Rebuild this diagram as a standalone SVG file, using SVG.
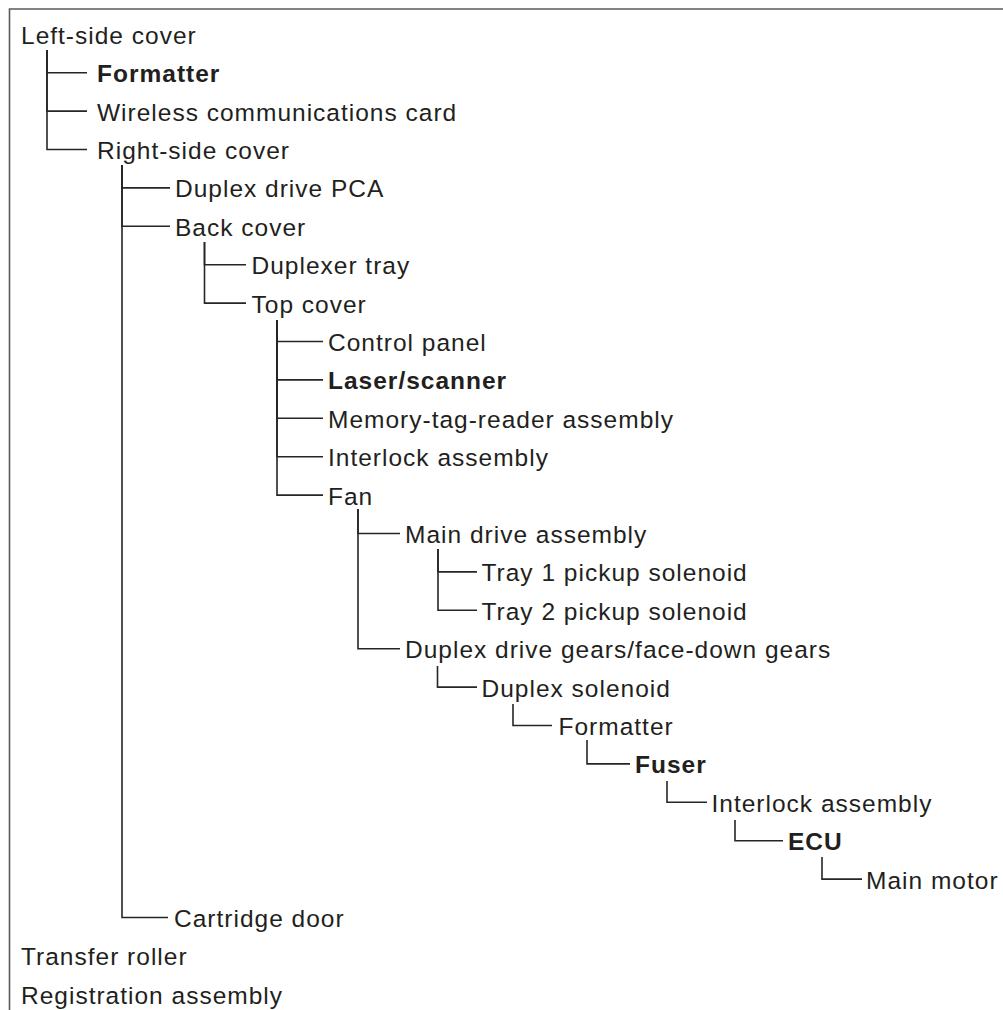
<svg xmlns="http://www.w3.org/2000/svg" width="1003" height="1010" viewBox="0 0 1003 1010">
<style>
.t{font-family:"Liberation Sans",Arial,sans-serif;font-size:24.5px;letter-spacing:1px;fill:#231f20}
.b{font-weight:bold}
.c{fill:none;stroke:#262626;stroke-width:1.6}
.f{fill:none;stroke:#5a5a5a;stroke-width:1.6}
</style>
<rect width="1003" height="1010" fill="#fff"/>
<path class="f" d="M9.5 1010 V9 H1003"/>
<g id="connectors">
<path class="c" d="M47 50 V72.7 H87"/>
<path class="c" d="M47 50 V111.1 H87"/>
<path class="c" d="M47 50 V149.5 H87"/>
<path class="c" d="M122 165 V187.9 H170"/>
<path class="c" d="M122 165 V226.3 H170"/>
<path class="c" d="M122 165 V917.5 H168"/>
<path class="c" d="M204.5 242 V264.7 H246"/>
<path class="c" d="M204.5 242 V303.1 H246"/>
<path class="c" d="M277 320 V341.5 H323"/>
<path class="c" d="M277 320 V379.9 H323"/>
<path class="c" d="M277 320 V418.3 H323"/>
<path class="c" d="M277 320 V456.7 H323"/>
<path class="c" d="M277 320 V495.1 H323"/>
<path class="c" d="M358 509 V533.5 H400"/>
<path class="c" d="M358 509 V648.7 H400"/>
<path class="c" d="M438 549 V571.9 H477"/>
<path class="c" d="M438 549 V610.3 H477"/>
<path class="c" d="M437.5 666 V687.1 H477"/>
<path class="c" d="M513 704 V725.5 H552"/>
<path class="c" d="M587 740 V763.9 H630"/>
<path class="c" d="M667 781 V802.3 H707"/>
<path class="c" d="M735 820 V840.7 H783"/>
<path class="c" d="M822 857 V879.1 H862"/>
</g>
<g id="n0"><text class="t" x="21" y="43.8">Left-side cover</text></g>
<g id="n1"><text class="t b" x="97" y="82.2">Formatter</text></g>
<g id="n2"><text class="t" x="97" y="120.6">Wireless communications card</text></g>
<g id="n3"><text class="t" x="97" y="159">Right-side cover</text></g>
<g id="n4"><text class="t" x="175" y="197.4">Duplex drive PCA</text></g>
<g id="n5"><text class="t" x="175" y="235.8">Back cover</text></g>
<g id="n6"><text class="t" x="251.5" y="274.2">Duplexer tray</text></g>
<g id="n7"><text class="t" x="251.5" y="312.6">Top cover</text></g>
<g id="n8"><text class="t" x="328" y="351">Control panel</text></g>
<g id="n9"><text class="t b" x="328" y="389.4">Laser/scanner</text></g>
<g id="n10"><text class="t" x="328" y="427.8">Memory-tag-reader assembly</text></g>
<g id="n11"><text class="t" x="328" y="466.2">Interlock assembly</text></g>
<g id="n12"><text class="t" x="328" y="504.6">Fan</text></g>
<g id="n13"><text class="t" x="405" y="543">Main drive assembly</text></g>
<g id="n14"><text class="t" x="481.5" y="581.4">Tray 1 pickup solenoid</text></g>
<g id="n15"><text class="t" x="481.5" y="619.8">Tray 2 pickup solenoid</text></g>
<g id="n16"><text class="t" x="405" y="658.2">Duplex drive gears/face-down gears</text></g>
<g id="n17"><text class="t" x="481.5" y="696.6">Duplex solenoid</text></g>
<g id="n18"><text class="t" x="558.5" y="735">Formatter</text></g>
<g id="n19"><text class="t b" x="635" y="773.4">Fuser</text></g>
<g id="n20"><text class="t" x="711.5" y="811.8">Interlock assembly</text></g>
<g id="n21"><text class="t b" x="788" y="850.2">ECU</text></g>
<g id="n22"><text class="t" x="866" y="888.6">Main motor</text></g>
<g id="n23"><text class="t" x="174" y="927">Cartridge door</text></g>
<g id="n24"><text class="t" x="21" y="965.4">Transfer roller</text></g>
<g id="n25"><text class="t" x="21" y="1003.8">Registration assembly</text></g>
</svg>
